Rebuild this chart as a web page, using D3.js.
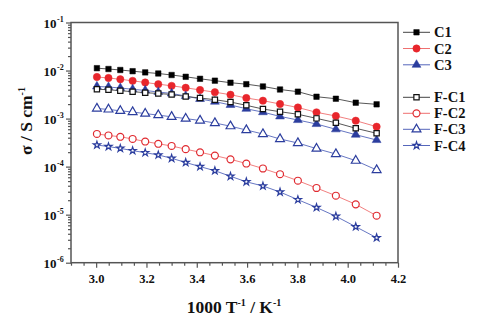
<!DOCTYPE html>
<html><head><meta charset="utf-8">
<script src="https://cdn.jsdelivr.net/npm/d3@7"></script>
<style>
html,body{margin:0;padding:0;background:#fff;}
svg{display:block;}
text{font-family:"Liberation Serif","Times New Roman",serif;font-weight:bold;fill:#111;}
</style></head>
<body>
<svg id="chart" width="482" height="321"></svg>
<script>
// 1000/T values (K^-1)
const xValues = [3.003, 3.049, 3.096, 3.145, 3.195, 3.247, 3.300, 3.356, 3.413, 3.472, 3.534, 3.597, 3.663, 3.731, 3.802, 3.876, 3.953, 4.032, 4.115];
const seriesNames = ["C1", "C2", "C3", "F-C1", "F-C2", "F-C3", "F-C4"];
const C1 = [0.0112, 0.01076, 0.01026, 0.00969, 0.00915, 0.00868, 0.00807, 0.00741, 0.00673, 0.00615, 0.00558, 0.00520, 0.00466, 0.00403, 0.00363, 0.00285, 0.00259, 0.00214, 0.00198];
const C2 = [0.00734, 0.00700, 0.00658, 0.00611, 0.00564, 0.00520, 0.00481, 0.00438, 0.00394, 0.00354, 0.00314, 0.00268, 0.00236, 0.00201, 0.00170, 0.00135, 0.00113, 0.000904, 0.000678];
const C3 = [0.00466, 0.00454, 0.00433, 0.00407, 0.00385, 0.00357, 0.00333, 0.00295, 0.00256, 0.00225, 0.00192, 0.00160, 0.00136, 0.00111, 0.000933, 0.000771, 0.000598, 0.000462, 0.000358];
const FC1 = [0.00407, 0.00399, 0.00380, 0.00363, 0.00346, 0.00333, 0.00317, 0.00288, 0.00268, 0.00247, 0.00221, 0.00189, 0.00158, 0.00139, 0.00123, 0.00101, 0.000820, 0.000628, 0.000494];
const FC2 = [0.000478, 0.000445, 0.000418, 0.000376, 0.000333, 0.000299, 0.000269, 0.000231, 0.000199, 0.000170, 0.000142, 0.000116, 0.0000914, 0.0000695, 0.0000509, 0.0000359, 0.0000248, 0.0000164, 0.00000951];
const FC3 = [0.00162, 0.00155, 0.00145, 0.00137, 0.00127, 0.00118, 0.00109, 0.00100, 0.000912, 0.000809, 0.000694, 0.000578, 0.000478, 0.000376, 0.000310, 0.000237, 0.000183, 0.000133, 0.0000851];
const FC4 = [0.000282, 0.000261, 0.000240, 0.000215, 0.000195, 0.000175, 0.000149, 0.000122, 0.000100, 0.0000822, 0.0000629, 0.0000483, 0.0000395, 0.0000296, 0.0000205, 0.0000141, 0.00000925, 0.00000561, 0.00000331];
const xTickLabels = ["3.0", "3.2", "3.4", "3.6", "3.8", "4.0", "4.2"];
const yTickExponents = [-1, -2, -3, -4, -5, -6];

const styles = {
  "C1":   {data: C1,  sym: d3.symbolSquare,   fill: "#000",    stroke: "#000",    line: "#444",    size: 30},
  "C2":   {data: C2,  sym: d3.symbolCircle,   fill: "#e8262c", stroke: "#e8262c", line: "#ef7070", size: 42},
  "C3":   {data: C3,  sym: d3.symbolTriangle, fill: "#2b3d9e", stroke: "#2b3d9e", line: "#5566bb", size: 34},
  "F-C1": {data: FC1, sym: d3.symbolSquare,   fill: "#fff",    stroke: "#111",    line: "#444",    size: 28},
  "F-C2": {data: FC2, sym: d3.symbolCircle,   fill: "#fff",    stroke: "#e02a30", line: "#ef7070", size: 38},
  "F-C3": {data: FC3, sym: d3.symbolTriangle, fill: "#fff",    stroke: "#2b3d9e", line: "#5566bb", size: 34},
  "F-C4": {data: FC4, sym: d3.symbolStar,     fill: "#fff",    stroke: "#2b3d9e", line: "#5566bb", size: 16}
};

const svg = d3.select("#chart");
const L = 71, R = 398, T = 22.5, B = 262.7;
const x = d3.scaleLinear().domain([2.9, 4.2]).range([L, R]);
const y = d3.scaleLog().domain([1e-6, 1e-1]).range([B, T]);
const axisColor = "#555";

// X axis ticks
const xMajor = xTickLabels.map(Number);
const xMinor = d3.range(0, 27).map(i => +(2.9 + i * 0.05).toFixed(2)).filter(v => !xMajor.some(m => Math.abs(m - v) < 1e-6));
const gx = svg.append("g").attr("transform", `translate(0,${B})`);
gx.call(d3.axisBottom(x).tickValues(xMinor).tickSize(3).tickFormat(""));
gx.call(g => g.selectAll(".domain").remove());
const gx2 = svg.append("g").attr("transform", `translate(0,${B})`);
gx2.call(d3.axisBottom(x).tickValues(xMajor).tickSize(5).tickPadding(6).tickFormat((d, i) => xTickLabels[i]));
gx2.call(g => g.selectAll(".domain").remove());
gx2.selectAll("text").attr("font-size", 12.5).attr("font-family", "Liberation Serif, serif").attr("font-weight", "bold").attr("fill", "#111");

// Y axis ticks
const yMajor = yTickExponents.map(e => Math.pow(10, e));
const yMinor = [];
for (let e = -6; e < -1; e++) for (let k = 2; k <= 9; k++) yMinor.push(k * Math.pow(10, e));
const gy = svg.append("g").attr("transform", `translate(${L},0)`);
gy.call(d3.axisLeft(y).tickValues(yMinor).tickSize(3).tickFormat(""));
gy.call(g => g.selectAll(".domain").remove());
const gy2 = svg.append("g").attr("transform", `translate(${L},0)`);
gy2.call(d3.axisLeft(y).tickValues(yMajor).tickSize(5).tickFormat(""));
gy2.call(g => g.selectAll(".domain").remove());
svg.selectAll(".tick line").attr("stroke", axisColor).attr("stroke-width", 1.2);
gy2.selectAll(".tick").each(function(d, i) {
  d3.select(this).append("text").attr("x", -14.5).attr("y", 5)
    .attr("text-anchor", "end").attr("font-size", 13).attr("fill", "#111").text("10");
  d3.select(this).append("text").attr("x", -14).attr("y", -1)
    .attr("text-anchor", "start").attr("font-size", 8).attr("fill", "#111")
    .text(String(yTickExponents[i]));
});

// Frame
svg.append("rect").attr("x", L).attr("y", T).attr("width", R - L).attr("height", B - T)
  .attr("fill", "none").attr("stroke", axisColor).attr("stroke-width", 1.5);

// Series
const line = d3.line().x((d, i) => x(xValues[i])).y(d => y(d));
seriesNames.forEach(name => {
  const s = styles[name];
  svg.append("path").datum(s.data).attr("d", line).attr("fill", "none")
    .attr("stroke", s.line).attr("stroke-width", 0.9);
  svg.append("g").selectAll("path").data(s.data).join("path")
    .attr("transform", (d, i) => `translate(${x(xValues[i])},${y(d)})`)
    .attr("d", d3.symbol().type(s.sym).size(s.size))
    .attr("fill", s.fill).attr("stroke", s.stroke).attr("stroke-width", s.fill === "#fff" ? 1.2 : 0.5);
});

// Legend
const legendRows = [32.3, 48.5, 64.8, 97.3, 113.3, 129.3, 145.5];
seriesNames.forEach((name, i) => {
  const s = styles[name];
  const g = svg.append("g").attr("transform", `translate(0,${legendRows[i]})`);
  g.append("line").attr("x1", 403).attr("x2", 430).attr("y1", 0).attr("y2", 0)
    .attr("stroke", s.line).attr("stroke-width", 1);
  g.append("path").attr("transform", "translate(416.5,0)")
    .attr("d", d3.symbol().type(s.sym).size(s.size))
    .attr("fill", s.fill).attr("stroke", s.stroke).attr("stroke-width", s.fill === "#fff" ? 1.2 : 0.5);
  g.append("text").attr("x", 434).attr("y", 5).attr("font-size", 14.5).text(name);
});

// Axis titles
const xt = svg.append("text").attr("x", 234).attr("y", 313).attr("text-anchor", "middle").attr("font-size", 17.5);
xt.append("tspan").text("1000 T");
xt.append("tspan").attr("font-size", 10).attr("dy", -7).text("-1");
xt.append("tspan").attr("dy", 7).text(" / K");
xt.append("tspan").attr("font-size", 10).attr("dy", -7).text("-1");

const yt = svg.append("text").attr("transform", "translate(32,121) rotate(-90)").attr("text-anchor", "middle").attr("font-size", 17.5);
yt.append("tspan").text("σ / S cm");
yt.append("tspan").attr("font-size", 10).attr("dy", -7).text("-1");
</script>
</body></html>
